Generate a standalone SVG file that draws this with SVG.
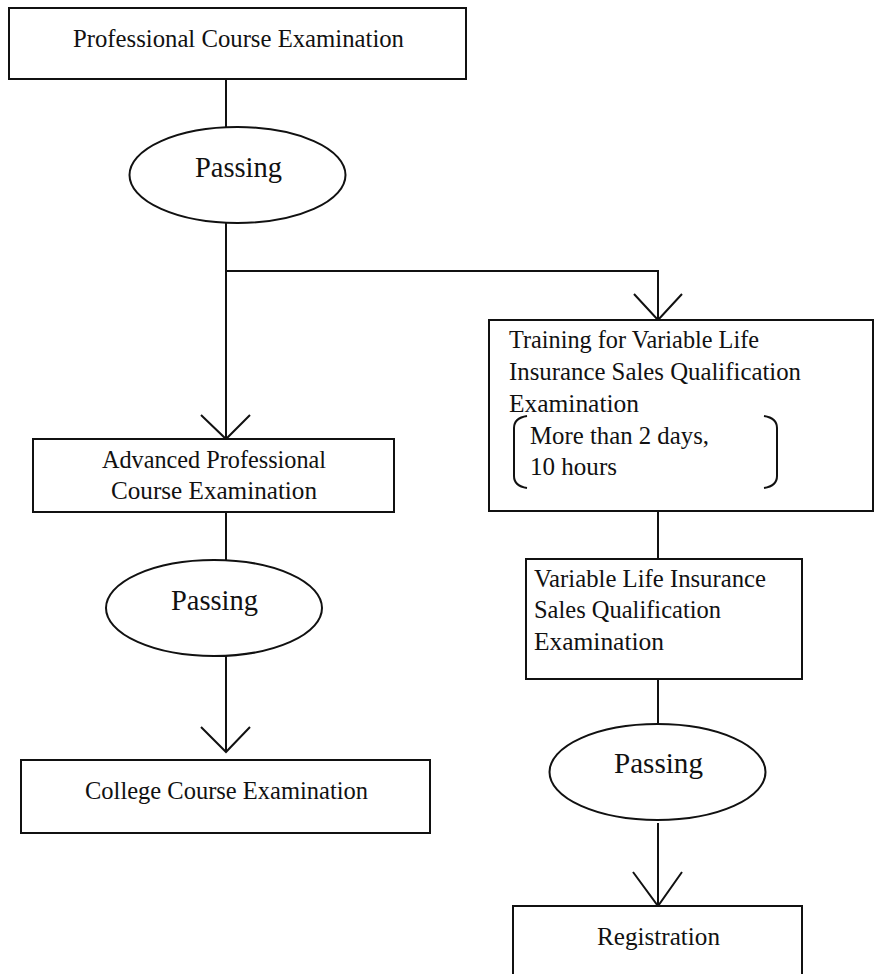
<svg xmlns="http://www.w3.org/2000/svg" width="875" height="974" viewBox="0 0 875 974">
<style>
.box{fill:#fff;stroke:#111;stroke-width:2}
.ell{fill:#fff;stroke:#111;stroke-width:2}
.ln{fill:none;stroke:#111;stroke-width:2}
.t{font-family:"Liberation Serif","Times New Roman",serif;font-size:25.5px;fill:#111}
.p{font-family:"Liberation Serif","Times New Roman",serif;font-size:28.5px;fill:#111}
</style>
<rect width="875" height="974" fill="#fff"/>
<g id="connectors">
<line class="ln" x1="226" y1="79" x2="226" y2="127"/>
<polyline class="ln" points="226,223 226,439"/>
<polyline class="ln" points="226,271 658,271 658,320"/>
<polyline class="ln" points="634,294 658,320 682,294"/>
<polyline class="ln" points="201,415 226,439 250,415"/>
<line class="ln" x1="226" y1="512" x2="226" y2="560"/>
<line class="ln" x1="226" y1="656" x2="226" y2="752"/>
<polyline class="ln" points="201,727 226,752 250,727"/>
<line class="ln" x1="658" y1="511" x2="658" y2="559"/>
<line class="ln" x1="658" y1="679" x2="658" y2="724"/>
<line class="ln" x1="658" y1="823" x2="658" y2="906"/>
<polyline class="ln" points="633,872 658,906 682,872"/>
</g>
<g id="n1">
<rect class="box" x="9" y="8" width="457" height="71"/>
<text class="t" x="73" y="47" textLength="331" lengthAdjust="spacingAndGlyphs">Professional Course Examination</text>
</g>
<g id="n2">
<ellipse class="ell" cx="237.5" cy="175" rx="108" ry="48"/>
<text class="p" x="195" y="177" textLength="87" lengthAdjust="spacingAndGlyphs">Passing</text>
</g>
<g id="n3">
<rect class="box" x="33" y="439" width="361" height="73"/>
<text class="t" x="102" y="468" textLength="224" lengthAdjust="spacingAndGlyphs">Advanced Professional</text>
<text class="t" x="111" y="499" textLength="206" lengthAdjust="spacingAndGlyphs">Course Examination</text>
</g>
<g id="n4">
<ellipse class="ell" cx="214" cy="608" rx="108" ry="48"/>
<text class="p" x="171" y="610" textLength="87" lengthAdjust="spacingAndGlyphs">Passing</text>
</g>
<g id="n5">
<rect class="box" x="21" y="760" width="409" height="73"/>
<text class="t" x="85" y="799" textLength="283" lengthAdjust="spacingAndGlyphs">College Course Examination</text>
</g>
<g id="n6">
<rect class="box" x="489" y="320" width="384" height="191"/>
<text class="t" x="509" y="348" textLength="250" lengthAdjust="spacingAndGlyphs">Training for Variable Life</text>
<text class="t" x="509" y="380" textLength="292" lengthAdjust="spacingAndGlyphs">Insurance Sales Qualification</text>
<text class="t" x="509" y="412" textLength="130" lengthAdjust="spacingAndGlyphs">Examination</text>
<path class="ln" d="M527,416 Q514,418 514,428 L514,476 Q514,486 527,488"/>
<path class="ln" d="M764,416 Q777,418 777,428 L777,476 Q777,486 764,488"/>
<text class="t" x="530" y="444" textLength="179" lengthAdjust="spacingAndGlyphs">More than 2 days,</text>
<text class="t" x="530" y="475" textLength="87" lengthAdjust="spacingAndGlyphs">10 hours</text>
</g>
<g id="n7">
<rect class="box" x="526" y="559" width="276" height="120"/>
<text class="t" x="534" y="587" textLength="232" lengthAdjust="spacingAndGlyphs">Variable Life Insurance</text>
<text class="t" x="534" y="618" textLength="187" lengthAdjust="spacingAndGlyphs">Sales Qualification</text>
<text class="t" x="534" y="650" textLength="130" lengthAdjust="spacingAndGlyphs">Examination</text>
</g>
<g id="n8">
<ellipse class="ell" cx="657.5" cy="772" rx="108" ry="48"/>
<text class="p" x="614" y="773" textLength="89" lengthAdjust="spacingAndGlyphs">Passing</text>
</g>
<g id="n9">
<rect class="box" x="513" y="906" width="289" height="80"/>
<text class="t" x="597" y="945" textLength="123" lengthAdjust="spacingAndGlyphs">Registration</text>
</g>
</svg>
